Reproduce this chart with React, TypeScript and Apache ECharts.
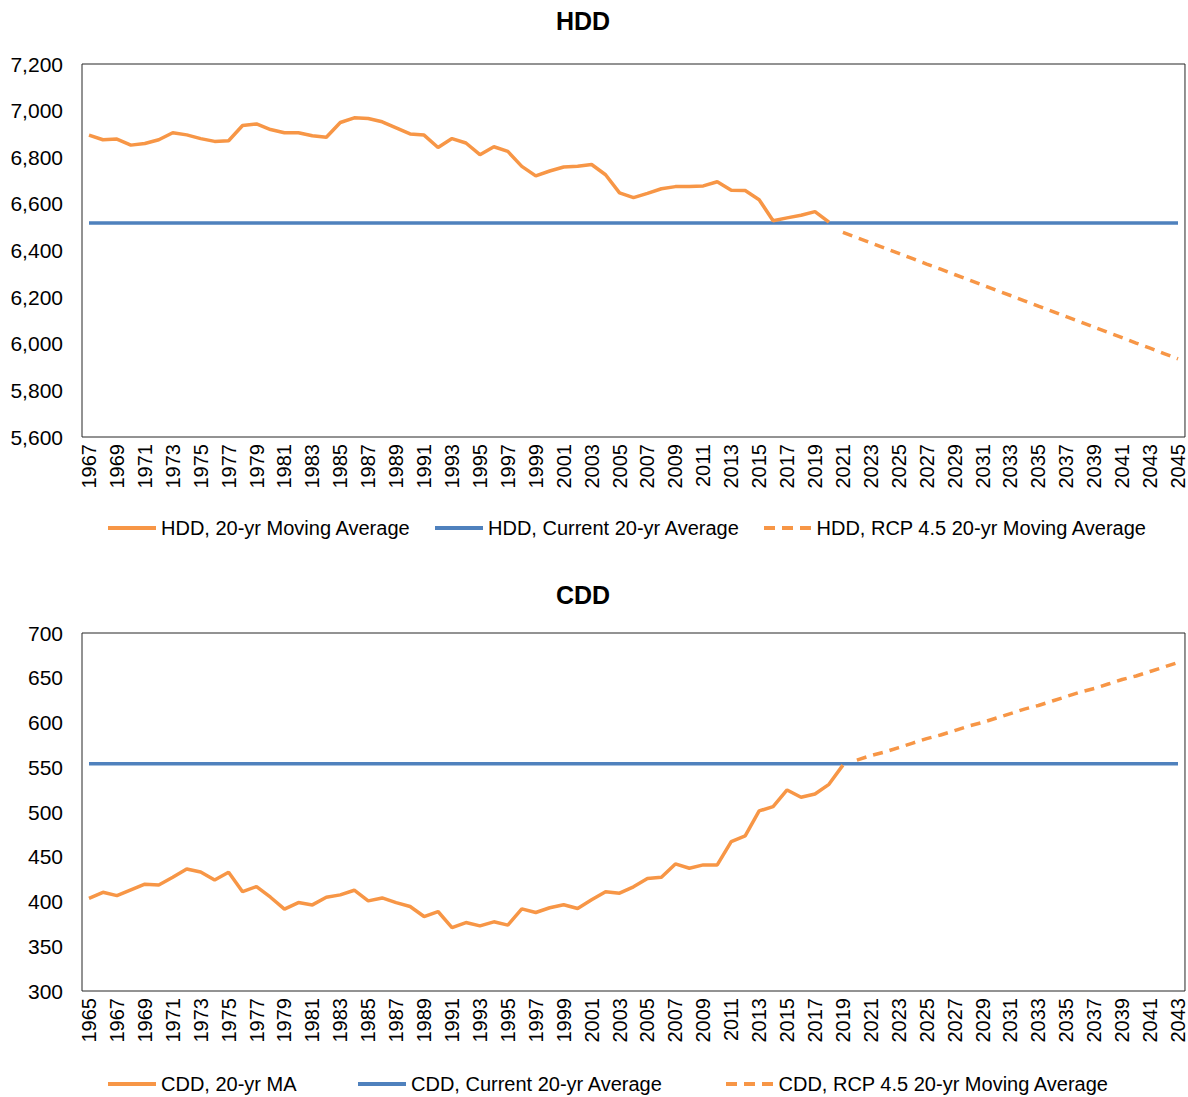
import React, { useEffect, useRef } from "react";
import * as echarts from "echarts";

// ---------- Data ----------
const HDD_START_YEAR = 1967;
const HDD_END_YEAR = 2045;
const CDD_START_YEAR = 1965;
const CDD_END_YEAR = 2043;

const hddYears: string[] = [];
for (let y = HDD_START_YEAR; y <= HDD_END_YEAR; y++) hddYears.push(String(y));
const cddYears: string[] = [];
for (let y = CDD_START_YEAR; y <= CDD_END_YEAR; y++) cddYears.push(String(y));

// HDD, 20-yr Moving Average (1967-2020)
const hddMovingAvg = [
  6895, 6875, 6878, 6852, 6859, 6875, 6905, 6896, 6880, 6868,
  6871, 6936, 6943, 6919, 6905, 6905, 6892, 6886, 6949, 6969,
  6966, 6952, 6926, 6900, 6895, 6842, 6880, 6861, 6811, 6845,
  6825, 6761, 6720, 6741, 6758, 6761, 6769, 6725, 6647, 6627,
  6645, 6665, 6674, 6675, 6677, 6695, 6658, 6657, 6618, 6528,
  6540, 6551, 6567, 6522,
];
// HDD, Current 20-yr Average
const hddCurrentAvg = 6518;
// HDD, RCP 4.5 20-yr Moving Average (2021-2045)
const hddRcpStartYear = 2021;
const hddRcp = [
  6478, 6455, 6433, 6410, 6388, 6365, 6342, 6320, 6297, 6275,
  6252, 6229, 6207, 6184, 6161, 6139, 6116, 6094, 6071, 6048,
  6026, 6003, 5981, 5958, 5935,
];

// CDD, 20-yr MA (1965-2019)
const cddMovingAvg = [
  403.6, 410.3, 406.6, 413, 419.3, 418.5, 427, 436.4, 433, 424,
  432.7, 411, 416.7, 404.8, 391.4, 398.8, 396.2, 404.8, 407.4, 412.6,
  400.7, 404, 398.8, 394.4, 383.2, 388.8, 370.9, 376.5, 372.8, 377.3,
  373.6, 391.8, 387.7, 393, 396.3, 392.2, 401.9, 410.8, 409.3, 416.4,
  425.6, 427.2, 442, 437.2, 440.9, 440.9, 467, 473.3, 501.2, 506,
  524.6, 516.4, 520.1, 530.9, 552.4,
];
// CDD, Current 20-yr Average
const cddCurrentAvg = 554;
// CDD, RCP 4.5 20-yr Moving Average (2020-2043)
const cddRcpStartYear = 2020;
const cddRcp = [
  558, 563, 567, 572, 577, 582, 586, 591, 596, 600,
  605, 610, 615, 619, 624, 629, 634, 638, 643, 648,
  652, 657, 662, 667,
];

const hddTicks = { min: 5600, max: 7200, interval: 200 };
const cddTicks = { min: 300, max: 700, interval: 50 };

// ---------- Helpers ----------
const padFrom = (years: string[], startYear: number, values: number[]) =>
  years.map((y) => {
    const idx = Number(y) - startYear;
    return idx >= 0 && idx < values.length ? values[idx] : null;
  });
const constant = (years: string[], v: number) => years.map(() => v);

const ORANGE = "#F79646";
const BLUE = "#4F81BD";
const FONT = "'Liberation Sans', Arial, sans-serif";

const SOLID_ICON = "path://M0,0h48v4H0z";
const DASH_ICON = "path://M0,0h11v4H0z M18,0h11v4H18z M36,0h11v4H36z";

const names = {
  hddMA: "HDD, 20-yr Moving Average",
  hddCur: "HDD, Current 20-yr Average",
  hddRcp: "HDD, RCP 4.5 20-yr Moving Average",
  cddMA: "CDD, 20-yr MA",
  cddCur: "CDD, Current 20-yr Average",
  cddRcp: "CDD, RCP 4.5 20-yr Moving Average",
};

export default function App() {
  const ref = useRef<HTMLDivElement>(null);

  useEffect(() => {
    document.body.style.margin = "0";
    if (!ref.current) return;
    const chart = echarts.init(ref.current, null, { renderer: "svg" });

    const xAxisBase = (data: string[], gridIndex: number) => ({
      type: "category",
      gridIndex,
      data,
      boundaryGap: true,
      axisLine: { show: false },
      axisTick: { show: false },
      splitLine: { show: false },
      axisLabel: {
        rotate: 90,
        interval: 1,
        margin: 7,
        fontSize: 20,
        color: "#000",
        fontFamily: FONT,
      },
    });
    const yAxisBase = (ticks: any, gridIndex: number) => ({
      type: "value",
      gridIndex,
      min: ticks.min,
      max: ticks.max,
      interval: ticks.interval,
      axisLine: { show: false },
      axisTick: { show: false },
      splitLine: { show: false },
      axisLabel: {
        margin: 19,
        fontSize: 21,
        color: "#000",
        fontFamily: FONT,
        formatter: (v: number) => v.toLocaleString("en-US"),
      },
    });

    const legendBase = (name: string, left: number, top: number, dashed: boolean) => ({
      data: [{ name, icon: dashed ? DASH_ICON : SOLID_ICON }],
      left,
      top,
      padding: 0,
      itemWidth: 48,
      itemHeight: 4,
      selectedMode: false,
      textStyle: { fontSize: 20, color: "#000", fontFamily: FONT },
    });

    const lineSeries = (
      name: string,
      data: (number | null)[],
      idx: number,
      color: string,
      dashed: boolean,
      z: number
    ) => ({
      name,
      type: "line",
      xAxisIndex: idx,
      yAxisIndex: idx,
      data,
      symbol: "none",
      showSymbol: false,
      z,
      lineStyle: { color, width: 3.5, type: dashed ? [10, 7] : "solid" },
      itemStyle: { color },
      connectNulls: false,
    });

    chart.setOption({
      animation: false,
      backgroundColor: "#fff",
      title: [
        {
          text: "HDD",
          left: 583,
          top: 8,
          padding: 0,
          textAlign: "center",
          textStyle: { fontSize: 25, fontWeight: "bold", color: "#000", fontFamily: FONT },
        },
        {
          text: "CDD",
          left: 583,
          top: 582,
          padding: 0,
          textAlign: "center",
          textStyle: { fontSize: 25, fontWeight: "bold", color: "#000", fontFamily: FONT },
        },
      ],
      legend: [
        legendBase(names.hddMA, 108, 518, false),
        legendBase(names.hddCur, 435, 518, false),
        legendBase(names.hddRcp, 764, 518, true),
        legendBase(names.cddMA, 108, 1074, false),
        legendBase(names.cddCur, 358, 1074, false),
        legendBase(names.cddRcp, 726, 1074, true),
      ],
      grid: [
        { left: 82, right: 3, top: 64, height: 373, show: true, borderColor: "#262626", borderWidth: 1, backgroundColor: "transparent" },
        { left: 82, right: 3, top: 633, height: 358, show: true, borderColor: "#262626", borderWidth: 1, backgroundColor: "transparent" },
      ],
      xAxis: [xAxisBase(hddYears, 0), xAxisBase(cddYears, 1)],
      yAxis: [yAxisBase(hddTicks, 0), yAxisBase(cddTicks, 1)],
      series: [
        lineSeries(names.hddMA, padFrom(hddYears, HDD_START_YEAR, hddMovingAvg), 0, ORANGE, false, 3),
        lineSeries(names.hddCur, constant(hddYears, hddCurrentAvg), 0, BLUE, false, 2),
        lineSeries(names.hddRcp, padFrom(hddYears, hddRcpStartYear, hddRcp), 0, ORANGE, true, 3),
        lineSeries(names.cddMA, padFrom(cddYears, CDD_START_YEAR, cddMovingAvg), 1, ORANGE, false, 3),
        lineSeries(names.cddCur, constant(cddYears, cddCurrentAvg), 1, BLUE, false, 2),
        lineSeries(names.cddRcp, padFrom(cddYears, cddRcpStartYear, cddRcp), 1, ORANGE, true, 3),
      ],
    });

    return () => chart.dispose();
  }, []);

  return <div ref={ref} style={{ width: 1188, height: 1097 }} />;
}
